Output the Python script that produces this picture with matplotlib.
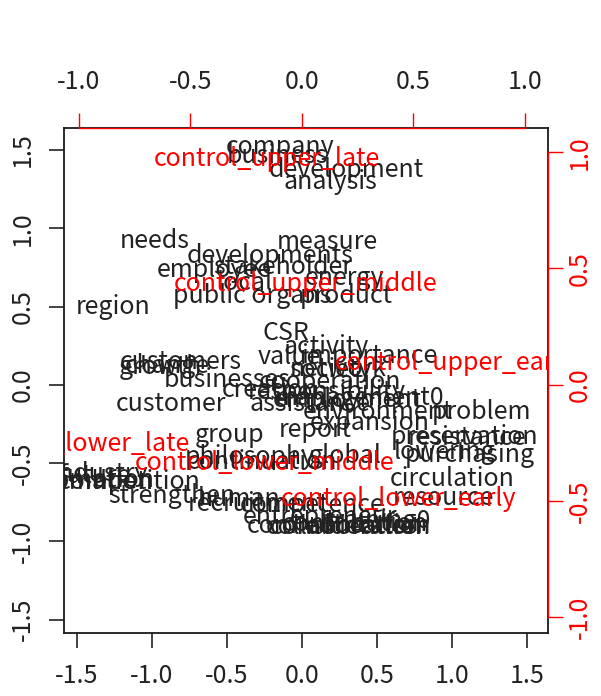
import matplotlib
matplotlib.use("Agg")
import matplotlib.pyplot as plt

plt.rcParams['font.family'] = ['Noto Sans CJK JP', 'DejaVu Sans']

# Row scores (words) on the first two dimensions
words = [
    "company", "business", "development", "analysis",
    "needs", "measure", "developments", "employee", "stakeholder",
    "energy", "local", "public organs", "product",
    "region", "CSR", "activity", "value", "importance",
    "customers", "growth", "change", "society", "network",
    "businesses", "cooperation", "creation", "responsibility",
    "management0", "assistance", "employment", "environment", "problem",
    "customer", "report", "expansion", "group",
    "preservation", "resistance", "lowering", "purchasing",
    "philosophy", "global", "continuation",
    "circulation", "resource", "strengthen",
    "competition", "industry", "future", "promotion", "automation",
    "human", "recruitment", "competence", "entrepreneur",
    "communication", "consideration", "contribution", "education",
    "collaboration", "training0",
]
word_x = [
    -0.147, -0.16, 0.293, 0.193,
    -0.98, 0.167, -0.213, -0.587, -0.127,
    0.287, -0.38, -0.333, 0.293,
    -1.26, -0.107, 0.16, -0.087, 0.453,
    -0.807, -0.94, -0.90, 0.193, 0.24,
    -0.50, 0.19, -0.213, 0.167,
    0.387, 0.053, 0.30, 0.507, 1.20,
    -0.873, 0.087, 0.453, -0.48,
    1.087, 1.10, 0.95, 1.12,
    -0.347, 0.287, -0.267,
    1.00, 0.94, -0.867,
    -1.15, -1.35, -1.38, -1.40, -1.45,
    -0.42, -0.30, 0.067, 0.12,
    0.25, 0.32, 0.35, 0.42,
    0.28, 0.51,
]
word_y = [
    1.52, 1.46, 1.373, 1.296,
    0.92, 0.913, 0.824, 0.734, 0.75,
    0.68, 0.65, 0.568, 0.568,
    0.498, 0.332, 0.243, 0.179, 0.185,
    0.147, 0.115, 0.12, 0.096, 0.10,
    0.03, 0.02, -0.03, -0.045,
    -0.083, -0.12, -0.10, -0.172, -0.172,
    -0.121, -0.287, -0.243, -0.319,
    -0.332, -0.34, -0.43, -0.45,
    -0.46, -0.453, -0.49,
    -0.60, -0.72, -0.709,
    -0.62, -0.57, -0.58, -0.61, -0.62,
    -0.73, -0.76, -0.77, -0.845,
    -0.90, -0.91, -0.89, -0.90,
    -0.91, -0.87,
]

# Column scores (groups) on the first two dimensions
groups = [
    "control_upper_late", "control_upper_middle", "control_upper_early",
    "control_lower_late", "control_lower_middle", "control_lower_early",
]
group_x = [-0.155, 0.016, 0.686, -1.0, -0.166, 0.435]
group_y = [0.972, 0.434, 0.095, -0.254, -0.335, -0.49]

lim = (-1.585, 1.64)
col_scale = 0.673
lim2 = (lim[0] * col_scale, lim[1] * col_scale)

fs = 18
ink = '#222222'
W, H = 601, 696
pos = [64 / W, 1 - 633 / H, (548 - 64) / W, (633 - 128) / H]

fig = plt.figure(figsize=(W / 100, H / 100), dpi=100)
ax = fig.add_axes(pos)
ax.set_xlim(lim)
ax.set_ylim(lim)
for s in ax.spines.values():
    s.set_linewidth(1.3)
    s.set_color('#1a1a1a')
ticks = [-1.5, -1.0, -0.5, 0.0, 0.5, 1.0, 1.5]
ax.set_xticks(ticks)
ax.set_xticklabels([f"{t:.1f}" for t in ticks], fontsize=fs, color=ink)
ax.set_yticks(ticks)
ax.set_yticklabels([f"{t:.1f}" for t in ticks], fontsize=fs, color=ink,
                   rotation=90, va='center')
ax.tick_params(axis='both', length=10.5, width=1.2, color=ink)
ax.tick_params(axis='x', pad=11)
ax.tick_params(axis='y', pad=10)

for w, x, y in zip(words, word_x, word_y):
    ax.text(x, y, w, fontsize=fs, color=ink, ha='center', va='center',
            clip_on=True)

ax2 = fig.add_axes(pos, frameon=True)
ax2.patch.set_visible(False)
ax2.set_xlim(lim2)
ax2.set_ylim(lim2)
ax2.spines['left'].set_visible(False)
ax2.spines['bottom'].set_visible(False)
for side in ('top', 'right'):
    ax2.spines[side].set_color('red')
    ax2.spines[side].set_linewidth(1.0)
    ax2.spines[side].set_bounds(-1.0, 1.0)
ticks2 = [-1.0, -0.5, 0.0, 0.5, 1.0]
ax2.xaxis.tick_top()
ax2.yaxis.tick_right()
ax2.set_xticks(ticks2)
ax2.set_xticklabels([f"{t:.1f}" for t in ticks2], fontsize=fs, color=ink)
ax2.set_yticks(ticks2)
ax2.set_yticklabels([f"{t:.1f}" for t in ticks2], fontsize=fs, color='red',
                    rotation=90, va='center')
ax2.tick_params(axis='both', length=10.5, width=1.0, color='red')
ax2.tick_params(axis='x', pad=13)
ax2.tick_params(axis='y', pad=3)

for g, x, y in zip(groups, group_x, group_y):
    ax2.text(x, y, g, fontsize=fs, color='red', ha='center', va='center',
             clip_on=True)

fig.savefig("out.png", dpi=100)
